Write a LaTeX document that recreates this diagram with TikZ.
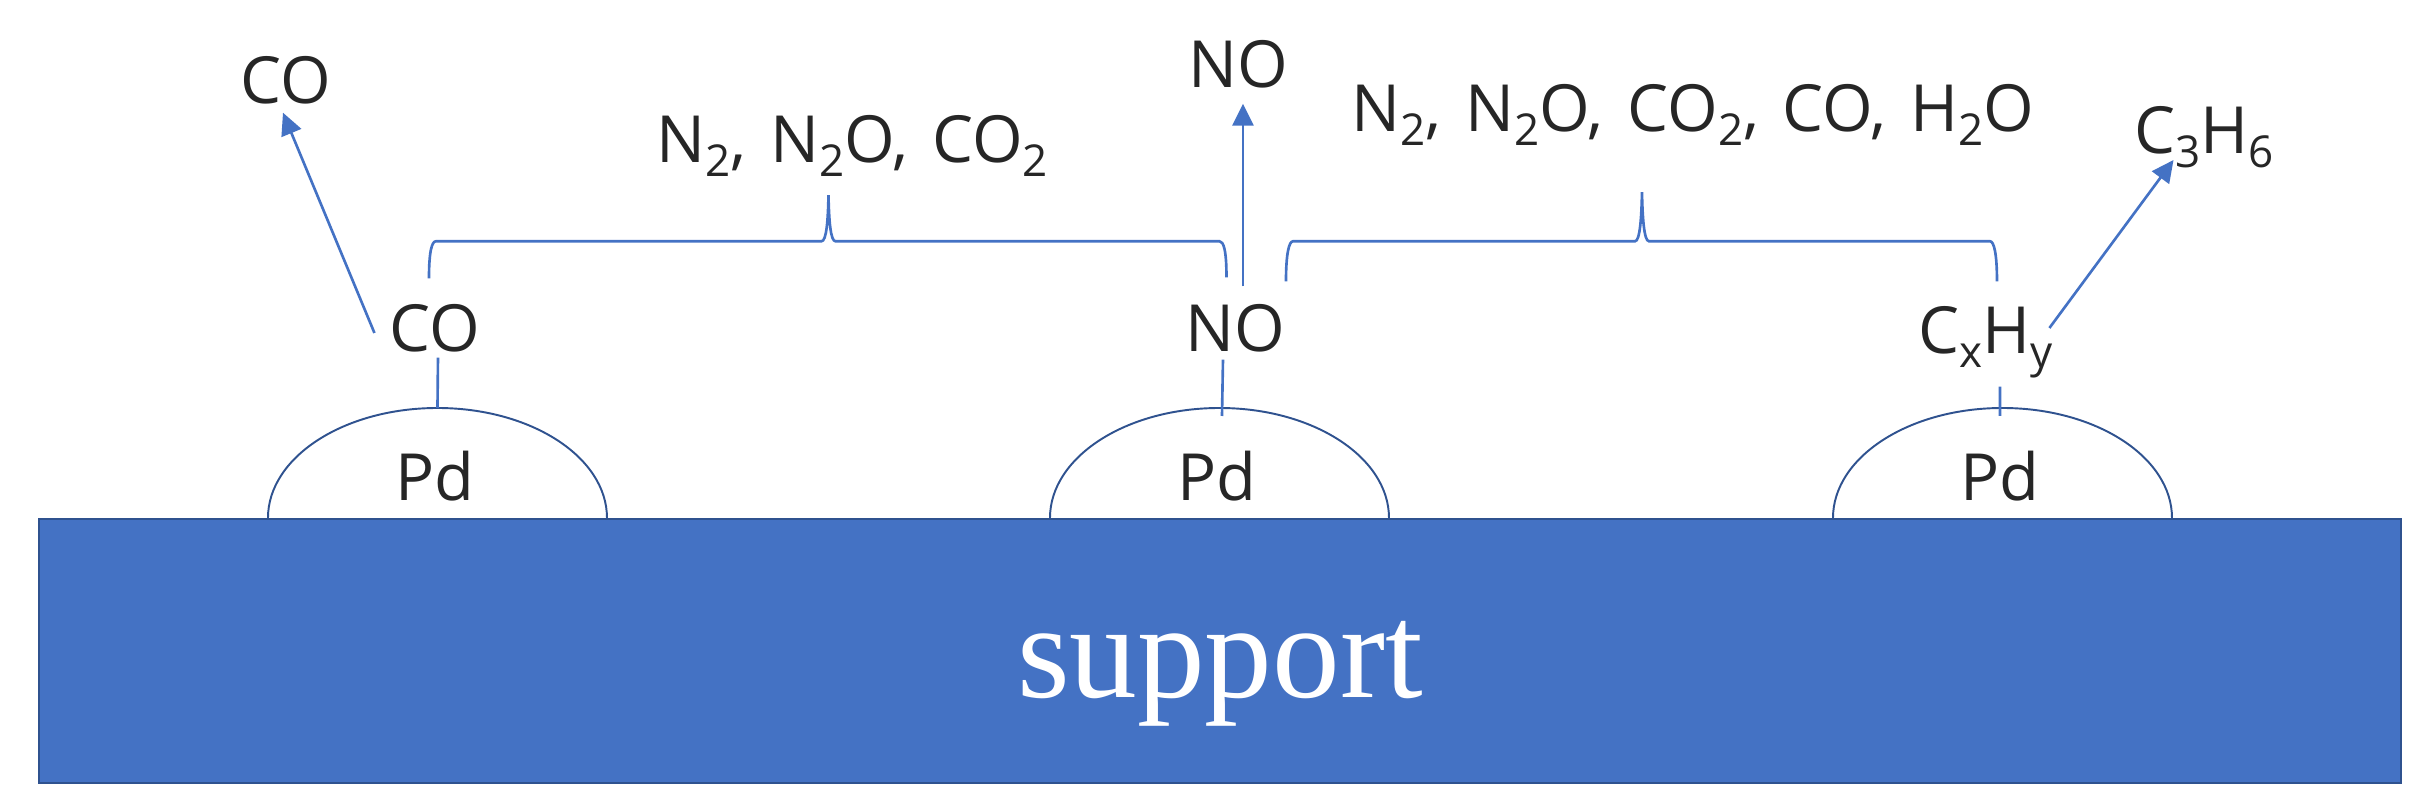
\documentclass[tikz,border=0pt]{standalone}
\usepackage{fontspec}
\setmainfont{Open Sans}
\newfontfamily\supportfont{Liberation Serif}
\usetikzlibrary{arrows.meta, calc, positioning}
\definecolor{supportblue}{HTML}{4472C4}
\definecolor{edgeblue}{HTML}{2F528F}
\definecolor{inkgray}{HTML}{262626}
\newcommand{\chemsub}[1]{\raisebox{-8pt}{\fontsize{25pt}{25pt}\selectfont #1}}
\newcommand{\chemgap}{\hspace{4pt}}

\begin{document}
\begin{tikzpicture}[
    on grid,
    species/.style={inner sep=0pt, text height=26.6pt, text depth=0pt, text=inkgray, font=\fontsize{37pt}{44pt}\selectfont},
    substrate/.style={draw=edgeblue, line width=1pt, fill=supportblue, minimum width=47.24cm, minimum height=5.28cm, inner sep=0pt, text=white, text height=70pt, text depth=16.8pt, font=\supportfont\fontsize{77pt}{90pt}\selectfont},
    dome/.style={draw=edgeblue, line width=1.1pt},
    link/.style={draw=supportblue, line width=1.5pt},
    release/.style={link, -{Stealth[length=.44cm, width=.42cm, inset=0pt]}}
]
   \useasboundingbox (-24.4,13.02) rectangle (24.2,-3.18);

   % Support and particles
   \node[substrate] (support) at (0,0) {support};
   \node[species] (pd1) [above left=3.47cm and 15.7cm of support] {Pd};
   \node[species] (pd2) [above left=3.47cm and 0.06cm of support] {Pd};
   \node[species] (pd3) [above right=3.47cm and 15.6cm of support] {Pd};

   \foreach \p in {pd1, pd2, pd3} {
      \draw[dome] ([shift={(-3.34,-0.81)}]\p.center) arc[start angle=180, end angle=0, x radius=3.39, y radius=2.2];
      \coordinate (\p-top) at ([shift={(0.05,1.39)}]\p.center);
   }

   % Adsorbed species
   \node[species] (co) [above=2.99cm of pd1] {CO};
   \node[species] (no) [above right=2.99cm and 0.36cm of pd2] {NO};
   \node[species] (cxhy) [above left=2.95cm and 0.28cm of pd3] {C\chemsub{x}H\chemsub{y}};

   % Gas phase
   \node[species] (co-gas) [above left=4.96cm and 2.98cm of co] {CO};
   \node[species] (no-gas) [above right=5.28cm and 0.06cm of no] {NO};
   \node[species] (c3h6) [above right=4cm and 4.36cm of cxhy] {C\chemsub{3}H\chemsub{6}};
   \node[species] (gases-left) [above right=3.77cm and 8.34cm of co] {N\chemsub{2}, \chemgap N\chemsub{2}O, \chemgap CO\chemsub{2}};
   \node[species] (gases-right) [above right=4.39cm and 9.16cm of no] {N\chemsub{2}, \chemgap N\chemsub{2}O, \chemgap CO\chemsub{2}, \chemgap CO, \chemgap H\chemsub{2}O};

   % Bonds to the particles
   \draw[link] ([shift={(0.06,-0.12)}]co.south) -- (pd1-top);
   \draw[link] ([shift={(-0.24,-0.16)}]no.south) -- ([shift={(0.05,-0.16)}]pd2-top);
   \draw[link] ([shift={(0.28,-0.66)}]cxhy.south) -- ([shift={(-0.05,-0.16)}]pd3-top);

   % Desorption
   \draw[release] ([shift={(-0.3,-0.1)}]co.west) -- ([shift={(-0.06,-0.18)}]co-gas.south);
   \draw[release] ([shift={(0.16,0.36)}]no.north) -- ([shift={(0.1,-0.32)}]no-gas.south);
   \draw[release] ([shift={(-0.08,0.04)}]cxhy.east) -- ([shift={(0.79,-0.6)}]c3h6.west);

   % Reaction brackets
   \coordinate (bl1) at ([shift={(-0.12,0.52)}]co.north);
   \coordinate (bt1) at ([shift={(-0.47,-0.64)}]gases-left.south);
   \coordinate (br1) at ([shift={(-0.17,0.54)}]no.north);
   \coordinate (bl2) at ([shift={(1.02,0.46)}]no.north);
   \coordinate (bt2) at ([shift={(-1.02,-1.2)}]gases-right.south);
   \coordinate (br2) at ([shift={(0.22,0.5)}]cxhy.north);
   \coordinate (bar) at ([yshift=0.8cm]br2);

   \foreach \l/\t/\r in {bl1/bt1/br1, bl2/bt2/br2} {
      \draw[link]
      (\l) .. controls +(0,0.55) and +(-0.08,0) .. ($(\l |- bar)+(0.14,0)$)
      -- ($(\t |- bar)+(-0.14,0)$)
      .. controls +(0.1,0) and +(-0.01,-0.5) .. (\t)
      .. controls +(0.01,-0.5) and +(-0.1,0) .. ($(\t |- bar)+(0.14,0)$)
      -- ($(\r |- bar)+(-0.14,0)$)
      .. controls +(0.08,0) and +(0,0.55) .. (\r);
   }
\end{tikzpicture}
\end{document}
